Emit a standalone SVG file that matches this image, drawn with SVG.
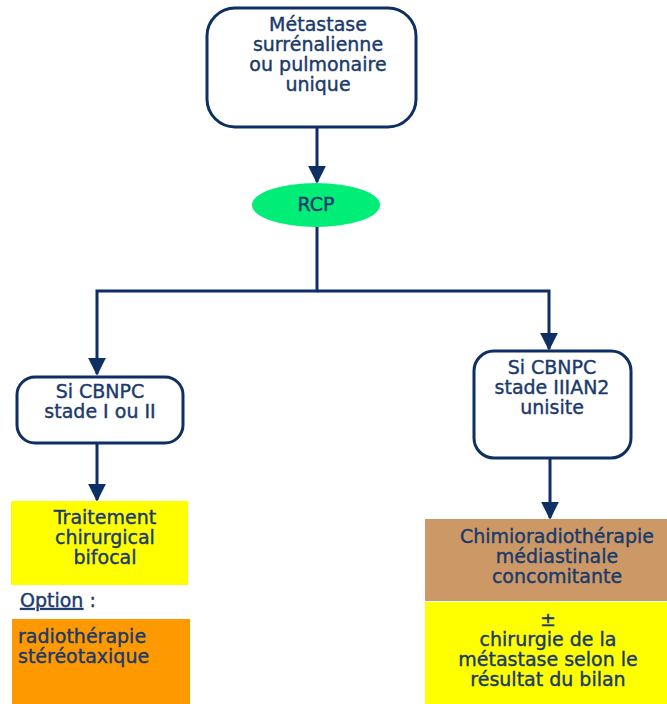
<svg xmlns="http://www.w3.org/2000/svg" width="667" height="704" viewBox="0 0 667 704">
<defs>
<style>
text{font-family:"DejaVu Sans","Verdana",sans-serif;font-size:19px;fill:#1B3A6B;stroke:#1B3A6B;stroke-width:0.4;}
.c{text-anchor:middle;}
.box{fill:#fff;stroke:#0E2F63;stroke-width:3;}
.ln{fill:none;stroke:#0E2F63;stroke-width:3;}
</style>
<marker id="ah" viewBox="0 0 10 10" refX="9" refY="5" markerWidth="6" markerHeight="6" markerUnits="strokeWidth" orient="auto">
<path d="M0,0 L10,5 L0,10 z" fill="#0E2F63"/>
</marker>
</defs>
<rect width="667" height="704" fill="#fff"/>
<g id="connectors">
<line class="ln" x1="317" y1="127" x2="317" y2="182" marker-end="url(#ah)"/>
<polyline class="ln" points="317,227 317,291 97,291 97,374" marker-end="url(#ah)"/>
<polyline class="ln" points="317,291 549,291 549,349" marker-end="url(#ah)"/>
<line class="ln" x1="97" y1="443" x2="97" y2="500" marker-end="url(#ah)"/>
<line class="ln" x1="550" y1="458" x2="550" y2="518" marker-end="url(#ah)"/>
</g>
<g id="n1">
<rect class="box" x="207" y="8" width="209" height="119" rx="28"/>
<text class="c" x="318" y="31">Métastase</text>
<text class="c" x="318" y="51">surrénalienne</text>
<text class="c" x="318" y="71">ou pulmonaire</text>
<text class="c" x="318" y="91">unique</text>
</g>
<g id="rcp">
<ellipse cx="316" cy="205" rx="64" ry="22" fill="#00EE77"/>
<text class="c" x="316" y="211">RCP</text>
</g>
<g id="left">
<rect class="box" x="17" y="377" width="166" height="66" rx="18"/>
<text class="c" x="100" y="398">Si CBNPC</text>
<text class="c" x="100" y="418">stade I ou II</text>
</g>
<g id="right">
<rect class="box" x="474" y="351" width="157" height="107" rx="20"/>
<text class="c" x="552" y="374">Si CBNPC</text>
<text class="c" x="552" y="394">stade IIIAN2</text>
<text class="c" x="552" y="414">unisite</text>
</g>
<g id="chir">
<rect x="11" y="501" width="177" height="84" fill="#FFFF00"/>
<text class="c" x="105" y="524">Traitement</text>
<text class="c" x="105" y="544">chirurgical</text>
<text class="c" x="105" y="564">bifocal</text>
</g>
<g id="option">
<text x="20" y="607"><tspan text-decoration="underline">Option</tspan> :</text>
</g>
<g id="radio">
<rect x="12" y="619" width="178" height="85" fill="#FF9900"/>
<text x="18" y="643">radiothérapie</text>
<text x="18" y="663">stéréotaxique</text>
</g>
<g id="chimio">
<rect x="425" y="519" width="242" height="82" fill="#CC9966"/>
<text class="c" x="557" y="543">Chimioradiothérapie</text>
<text class="c" x="557" y="563">médiastinale</text>
<text class="c" x="557" y="583">concomitante</text>
</g>
<g id="chir2">
<rect x="425" y="602" width="242" height="102" fill="#FFFF00"/>
<text class="c" x="548" y="626">±</text>
<text class="c" x="548" y="646">chirurgie de la</text>
<text class="c" x="548" y="666">métastase selon le</text>
<text class="c" x="548" y="686">résultat du bilan</text>
</g>
</svg>
